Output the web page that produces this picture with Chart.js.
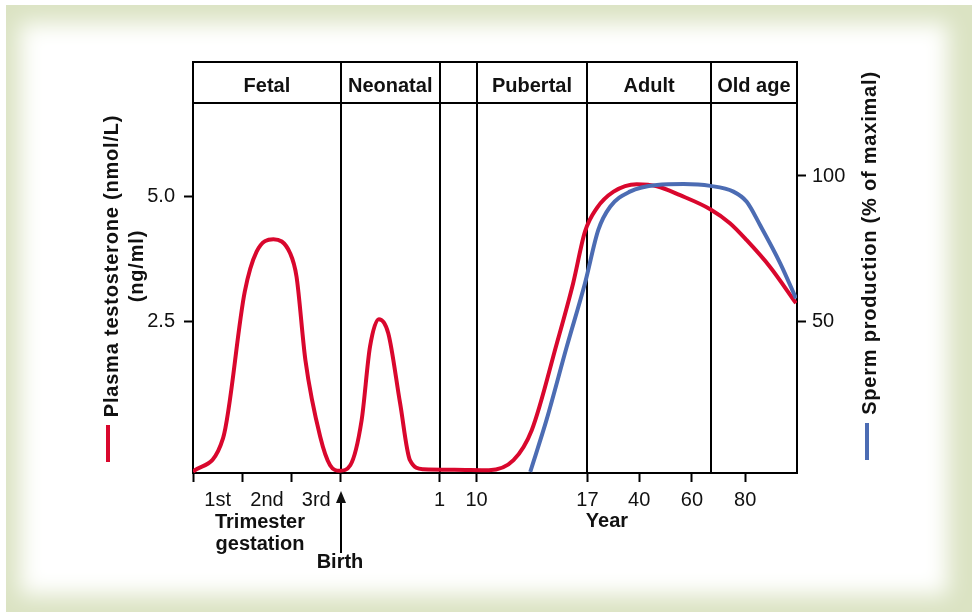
<!DOCTYPE html>
<html>
<head>
<meta charset="utf-8">
<title>Testosterone and sperm production over life</title>
<script src="https://cdn.jsdelivr.net/npm/chart.js@4.4.1/dist/chart.umd.min.js"></script>
<style>
  html, body { margin: 0; padding: 0; background: #fff; }
  #frame { position: absolute; left: 6px; top: 5px; width: 966px; height: 607px; background: #dbe3c3; overflow: hidden; }
  #panel { position: absolute; left: 14px; top: 18px; width: 928px; height: 572px; background: #fff; filter: blur(11px); }
  #wrap { position: absolute; left: 0; top: 0; width: 974px; height: 616px; }
</style>
</head>
<body>
<div id="frame"><div id="panel"></div></div>
<div id="wrap"><canvas id="chart" width="974" height="616"></canvas></div>
<script>
// x runs in "trimester widths": 0-3 is gestation, then the post-natal ages
const xTickValues = [0, 1, 2, 3, 5, 5.75, 8, 9.05, 10.12, 11.2];
const xTickLabels = ['', '', '', '', '1', '10', '17', '40', '60', '80'];
const trimesterValues = [0.5, 1.5, 2.5];
const trimesterLabels = ['1st', '2nd', '3rd'];

// life stages shown in the header row
const stageBounds = [0, 3, 5, 5.75, 8, 10.5, 12.25];
const stageLabels = ['Fetal', 'Neonatal', '', 'Pubertal', 'Adult', 'Old age'];

const testoTicks = [2.5, 5.0];
const spermTicks = [50, 100];

// plasma testosterone (nmol/L)
const testoX = [0, 0.61, 1.05, 1.29, 1.63, 1.97, 2.10, 2.28, 2.58, 2.78, 2.98, 3.19, 3.42, 3.59, 3.77, 3.96, 4.20, 4.40, 4.67,
  5.30, 6.00, 6.50, 6.87, 7.38, 7.71, 7.95, 8.19, 8.53, 9.00, 9.41, 9.88, 10.49, 10.89, 11.23, 11.70, 12.23];
const testoY = [-0.50, 0.17, 3.10, 3.90, 4.15, 3.87, 3.40, 1.73, 0.20, -0.37, -0.48, -0.37, 0.53, 2.00, 2.55, 2.27, 0.87, -0.27, -0.45,
  -0.46, -0.47, -0.27, 0.33, 2.07, 3.27, 4.30, 4.77, 5.10, 5.25, 5.21, 5.03, 4.75, 4.47, 4.13, 3.60, 2.87];

// sperm production (% of maximal)
const spermX = [6.84, 7.17, 7.58, 7.95, 8.22, 8.46, 8.86, 9.41, 9.95, 10.49, 10.96, 11.23, 11.50, 11.91, 12.23];
const spermY = [-2.0, 15.9, 41.1, 63.0, 81.4, 89.4, 94.6, 96.9, 97.2, 96.6, 94.6, 91.1, 83.1, 69.9, 57.8];

const RED = '#d9072d';
const BLUE = '#4c6cb3';
const FONT = "'Liberation Sans', Arial, Helvetica, sans-serif";

Chart.defaults.font.family = FONT;
Chart.defaults.color = '#111';

const pairs = (xs, ys) => xs.map((x, i) => ({ x: x, y: ys[i] }));

const overlay = {
  id: 'overlay',
  beforeDatasetsDraw(chart) {
    const { ctx, chartArea: a, scales: { x } } = chart;
    ctx.save();
    ctx.strokeStyle = '#000';
    ctx.lineWidth = 2;
    // header box
    ctx.beginPath();
    ctx.moveTo(a.left, a.top);
    ctx.lineTo(a.right, a.top);
    ctx.moveTo(a.left, a.top + 41);
    ctx.lineTo(a.right, a.top + 41);
    // stage boundaries
    stageBounds.slice(1, -1).forEach(v => {
      const px = Math.round(x.getPixelForValue(v));
      ctx.moveTo(px, a.top);
      ctx.lineTo(px, a.bottom);
    });
    ctx.stroke();
    ctx.restore();
  },
  afterDraw(chart) {
    const { ctx, chartArea: a, scales: { x } } = chart;
    ctx.save();
    ctx.fillStyle = '#111';
    ctx.textAlign = 'center';

    // stage names
    ctx.font = 'bold 20px ' + FONT;
    ctx.textBaseline = 'alphabetic';
    stageLabels.forEach((s, i) => {
      const mid = (x.getPixelForValue(stageBounds[i]) + x.getPixelForValue(stageBounds[i + 1])) / 2;
      ctx.fillText(s, mid, a.top + 30);
    });

    // bottom captions
    ctx.fillText('Trimester', 260, 528);
    ctx.fillText('gestation', 260, 550);
    ctx.fillText('Birth', 340, 568);
    ctx.fillText('Year', 607, 527);

    // birth arrow
    const bx = Math.round(x.getPixelForValue(3));
    ctx.strokeStyle = '#000';
    ctx.lineWidth = 2;
    ctx.beginPath();
    ctx.moveTo(bx, 553);
    ctx.lineTo(bx, 500);
    ctx.stroke();
    ctx.beginPath();
    ctx.moveTo(bx, 491);
    ctx.lineTo(bx - 5, 503);
    ctx.lineTo(bx + 5, 503);
    ctx.closePath();
    ctx.fill();

    // axis titles
    ctx.letterSpacing = '0.8px';
    ctx.textBaseline = 'middle';
    ctx.save();
    ctx.translate(112, 266);
    ctx.rotate(-Math.PI / 2);
    ctx.fillText('Plasma testosterone (nmol/L)', 0, 0);
    ctx.fillText('(ng/ml)', 0, 25);
    ctx.restore();
    ctx.save();
    ctx.translate(870, 243);
    ctx.rotate(-Math.PI / 2);
    ctx.fillText('Sperm production (% of maximal)', 0, 0);
    ctx.restore();

    // series keys next to the titles
    ctx.lineWidth = 4;
    ctx.strokeStyle = RED;
    ctx.beginPath();
    ctx.moveTo(108, 425);
    ctx.lineTo(108, 462);
    ctx.stroke();
    ctx.strokeStyle = BLUE;
    ctx.beginPath();
    ctx.moveTo(867, 423);
    ctx.lineTo(867, 460);
    ctx.stroke();
    ctx.restore();
  }
};

const axisLine = { color: '#000', width: 2 };
const tickGrid = { drawOnChartArea: false, tickLength: 9, tickWidth: 2, color: '#000' };

new Chart(document.getElementById('chart'), {
  type: 'line',
  data: {
    datasets: [
      { label: 'Sperm production', data: pairs(spermX, spermY), yAxisID: 'y1', borderColor: BLUE, borderWidth: 4 },
      { label: 'Plasma testosterone', data: pairs(testoX, testoY), yAxisID: 'y', borderColor: RED, borderWidth: 4 }
    ]
  },
  options: {
    responsive: false,
    animation: false,
    layout: { padding: { top: 62, left: 0, right: 0, bottom: 0 } },
    elements: { point: { radius: 0 }, line: { cubicInterpolationMode: 'monotone' } },
    plugins: { legend: { display: false }, tooltip: { enabled: false } },
    scales: {
      x: {
        type: 'linear',
        min: stageBounds[0],
        max: stageBounds[stageBounds.length - 1],
        border: axisLine,
        grid: {
          ...tickGrid,
          tickColor: c => (c.tick && trimesterValues.includes(c.tick.value)) ? 'rgba(0,0,0,0)' : '#000'
        },
        afterBuildTicks: s => {
          s.ticks = xTickValues.concat(trimesterValues).sort((p, q) => p - q).map(v => ({ value: v }));
        },
        afterFit: s => { s.height = 143; },
        ticks: {
          autoSkip: false,
          maxRotation: 0,
          padding: 6,
          font: { size: 20 },
          callback: v => {
            const t = trimesterValues.indexOf(v);
            if (t >= 0) return trimesterLabels[t];
            const i = xTickValues.indexOf(v);
            return i >= 0 ? xTickLabels[i] : '';
          }
        }
      },
      y: {
        position: 'left',
        min: -0.526,
        max: 7.694,
        border: axisLine,
        grid: tickGrid,
        afterBuildTicks: s => { s.ticks = testoTicks.map(v => ({ value: v })); },
        afterFit: s => { s.width = 193; },
        ticks: { padding: 9, font: { size: 20 }, callback: v => v.toFixed(1) }
      },
      y1: {
        position: 'right',
        min: -2.4,
        max: 139.3,
        border: axisLine,
        grid: tickGrid,
        afterBuildTicks: s => { s.ticks = spermTicks.map(v => ({ value: v })); },
        afterFit: s => { s.width = 177; },
        ticks: { padding: 6, font: { size: 20 }, callback: v => String(v) }
      }
    }
  },
  plugins: [overlay]
});
</script>
</body>
</html>
